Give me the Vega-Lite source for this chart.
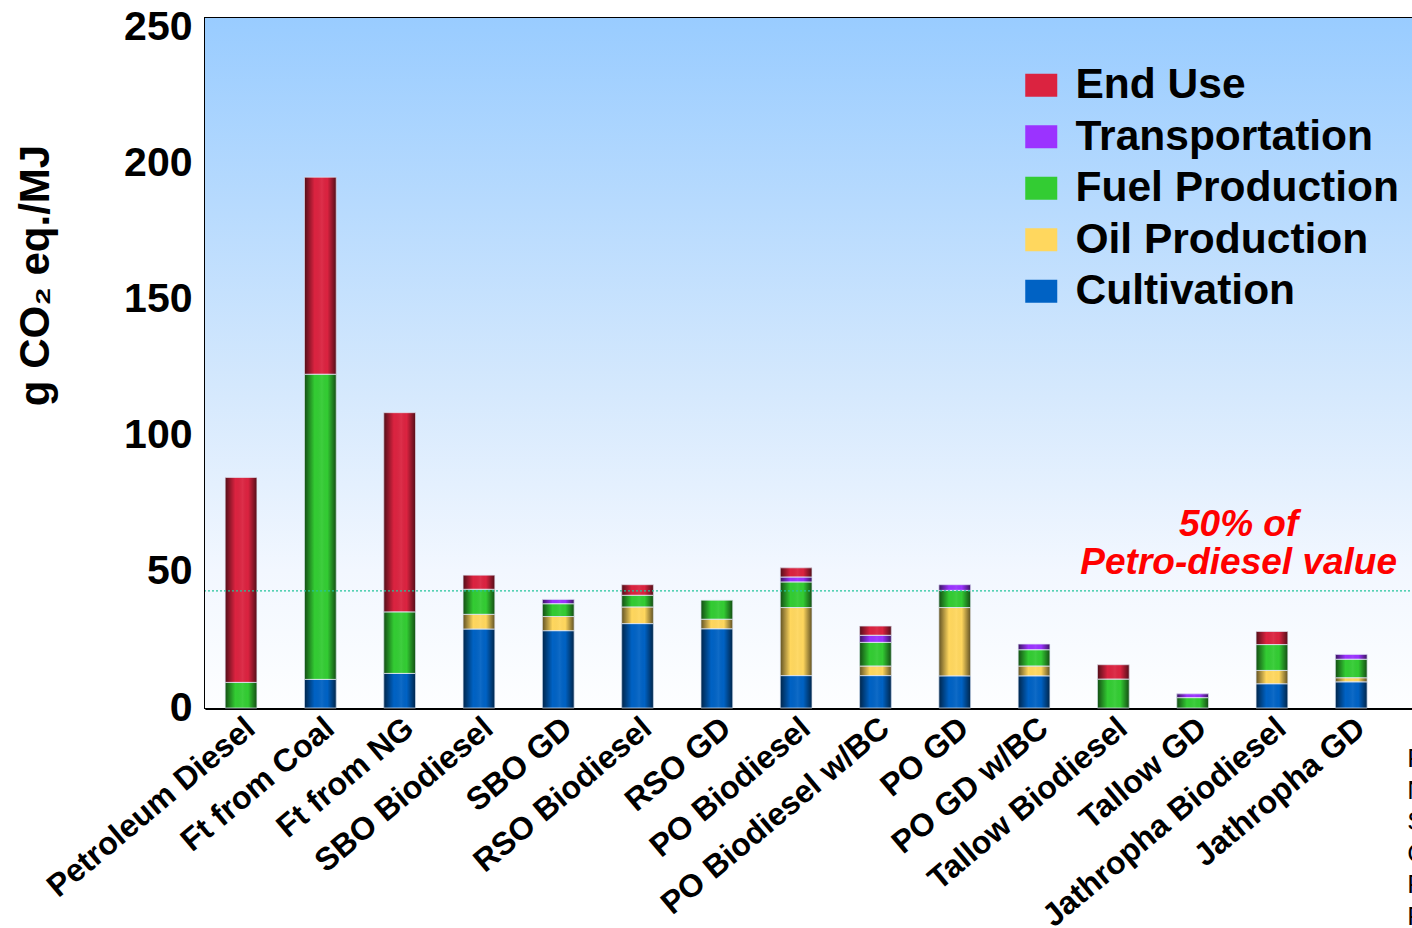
{
  "$schema": "https://vega.github.io/schema/vega-lite/v6.json",
  "width": 1209,
  "height": 690,
  "autosize": {"type": "none"},
  "padding": {"left": 205, "top": 18, "right": 0, "bottom": 220},
  "background": "white",
  "config": {"view": {"stroke": "black", "strokeWidth": 2}, "font": "Liberation Sans"},
  "datasets": {
    "emissions": [
      {"fuel": "Petroleum Diesel", "component": "Fuel Production", "value": 9.4},
      {"fuel": "Petroleum Diesel", "component": "End Use", "value": 75.3},
      {"fuel": "Ft from Coal", "component": "Cultivation", "value": 10.5},
      {"fuel": "Ft from Coal", "component": "Fuel Production", "value": 112.1},
      {"fuel": "Ft from Coal", "component": "End Use", "value": 72.4},
      {"fuel": "Ft from NG", "component": "Cultivation", "value": 12.7},
      {"fuel": "Ft from NG", "component": "Fuel Production", "value": 22.6},
      {"fuel": "Ft from NG", "component": "End Use", "value": 73.2},
      {"fuel": "SBO Biodiesel", "component": "Cultivation", "value": 29.0},
      {"fuel": "SBO Biodiesel", "component": "Oil Production", "value": 5.4},
      {"fuel": "SBO Biodiesel", "component": "Fuel Production", "value": 9.2},
      {"fuel": "SBO Biodiesel", "component": "End Use", "value": 5.2},
      {"fuel": "SBO GD", "component": "Cultivation", "value": 28.4},
      {"fuel": "SBO GD", "component": "Oil Production", "value": 5.2},
      {"fuel": "SBO GD", "component": "Fuel Production", "value": 4.7},
      {"fuel": "SBO GD", "component": "Transportation", "value": 1.6},
      {"fuel": "RSO Biodiesel", "component": "Cultivation", "value": 31.0},
      {"fuel": "RSO Biodiesel", "component": "Oil Production", "value": 6.1},
      {"fuel": "RSO Biodiesel", "component": "Fuel Production", "value": 4.3},
      {"fuel": "RSO Biodiesel", "component": "End Use", "value": 3.9},
      {"fuel": "RSO GD", "component": "Cultivation", "value": 29.1},
      {"fuel": "RSO GD", "component": "Oil Production", "value": 3.5},
      {"fuel": "RSO GD", "component": "Fuel Production", "value": 7.0},
      {"fuel": "PO Biodiesel", "component": "Cultivation", "value": 11.9},
      {"fuel": "PO Biodiesel", "component": "Oil Production", "value": 25.0},
      {"fuel": "PO Biodiesel", "component": "Fuel Production", "value": 9.4},
      {"fuel": "PO Biodiesel", "component": "Transportation", "value": 1.8},
      {"fuel": "PO Biodiesel", "component": "End Use", "value": 3.4},
      {"fuel": "PO Biodiesel w/BC", "component": "Cultivation", "value": 11.9},
      {"fuel": "PO Biodiesel w/BC", "component": "Oil Production", "value": 3.5},
      {"fuel": "PO Biodiesel w/BC", "component": "Fuel Production", "value": 8.7},
      {"fuel": "PO Biodiesel w/BC", "component": "Transportation", "value": 2.6},
      {"fuel": "PO Biodiesel w/BC", "component": "End Use", "value": 3.4},
      {"fuel": "PO GD", "component": "Cultivation", "value": 11.8},
      {"fuel": "PO GD", "component": "Oil Production", "value": 25.1},
      {"fuel": "PO GD", "component": "Fuel Production", "value": 6.3},
      {"fuel": "PO GD", "component": "Transportation", "value": 2.1},
      {"fuel": "PO GD w/BC", "component": "Cultivation", "value": 11.8},
      {"fuel": "PO GD w/BC", "component": "Oil Production", "value": 3.6},
      {"fuel": "PO GD w/BC", "component": "Fuel Production", "value": 6.0},
      {"fuel": "PO GD w/BC", "component": "Transportation", "value": 2.1},
      {"fuel": "Tallow Biodiesel", "component": "Fuel Production", "value": 10.6},
      {"fuel": "Tallow Biodiesel", "component": "End Use", "value": 5.3},
      {"fuel": "Tallow GD", "component": "Fuel Production", "value": 3.8},
      {"fuel": "Tallow GD", "component": "Transportation", "value": 1.4},
      {"fuel": "Jathropha Biodiesel", "component": "Cultivation", "value": 8.9},
      {"fuel": "Jathropha Biodiesel", "component": "Oil Production", "value": 4.9},
      {"fuel": "Jathropha Biodiesel", "component": "Fuel Production", "value": 9.5},
      {"fuel": "Jathropha Biodiesel", "component": "End Use", "value": 4.8},
      {"fuel": "Jathropha GD", "component": "Cultivation", "value": 9.6},
      {"fuel": "Jathropha GD", "component": "Oil Production", "value": 1.5},
      {"fuel": "Jathropha GD", "component": "Fuel Production", "value": 6.8},
      {"fuel": "Jathropha GD", "component": "Transportation", "value": 1.8}
    ]
  },
  "layer": [
    {
      "data": {"values": [{}]},
      "mark": {
        "type": "rect",
        "color": {
          "gradient": "linear", "x1": 0, "y1": 0, "x2": 0, "y2": 1,
          "stops": [
            {"offset": 0, "color": "#99ccff"},
            {"offset": 0.55, "color": "#d6e9fd"},
            {"offset": 0.8, "color": "#f2f7ff"},
            {"offset": 1, "color": "#fdfeff"}
          ]
        }
      },
      "encoding": {
        "y": {"datum": 253.5, "type": "quantitative"},
        "y2": {"datum": 0}
      }
    },
    {
      "data": {"name": "emissions"},
      "transform": [{"stack": "value", "groupby": ["fuel"], "as": ["y0", "y1"]}],
      "mark": {"type": "bar"},
      "encoding": {
        "x": {
          "field": "fuel", "type": "nominal", "sort": null,
          "scale": {"paddingInner": 0.6, "paddingOuter": 0.423, "align": 0.301},
          "axis": {
            "title": null, "labelAngle": -40, "labelFont": "Liberation Sans", "labelFontWeight": "bold",
            "labelFontSize": 32, "labelColor": "black", "ticks": false, "domainColor": "black",
            "domainWidth": 3, "labelPadding": 4, "labelLimit": 600
          }
        },
        "y": {
          "field": "y0", "type": "quantitative",
          "scale": {"domain": [0, 253.5], "nice": false},
          "axis": {
            "values": [0, 50, 100, 150, 200, 250],
            "labelFont": "Liberation Sans", "labelFontWeight": "bold", "labelFontSize": 41,
            "labelColor": "black", "labelPadding": 38, "tickSize": -25, "tickWidth": 2,
            "tickColor": "black", "domainColor": "black", "domainWidth": 2, "grid": false,
            "title": "g CO₂ eq./MJ", "titleFont": "Liberation Sans", "titleFontWeight": "bold",
            "titleFontSize": 42, "titleColor": "black", "titleAngle": 270, "titleAlign": "center",
            "titleBaseline": "alphabetic", "titleX": -157, "titleY": 257
          }
        },
        "y2": {"field": "y1"},
        "color": {
          "field": "component", "type": "nominal",
          "scale": {
            "domain": ["End Use", "Transportation", "Fuel Production", "Oil Production", "Cultivation"],
            "range": ["#db2340", "#9b33ff", "#33cc33", "#ffd75e", "#0062c4"]
          },
          "legend": {
            "orient": "none", "legendX": 815, "legendY": 46, "title": null, "padding": 0,
            "labelFont": "Liberation Sans", "labelFontWeight": "bold", "labelFontSize": 42.5,
            "labelColor": "black", "labelOffset": 13, "labelLimit": 600,
            "symbolType": "M-1,-0.72H1V0.72H-1Z", "symbolSize": 1024, "symbolStrokeWidth": 0,
            "symbolOpacity": 1, "rowPadding": 8.5
          }
        }
      }
    },
    {
      "data": {"name": "emissions"},
      "transform": [{"stack": "value", "groupby": ["fuel"], "as": ["y0", "y1"]}],
      "mark": {
        "type": "bar",
        "stroke": "#dfe7f2", "strokeWidth": 1, "strokeOpacity": 0.7,
        "fill": {
          "gradient": "linear", "x1": 0, "y1": 0, "x2": 1, "y2": 0,
          "stops": [
            {"offset": 0, "color": "rgba(0,0,0,0.62)"},
            {"offset": 0.32, "color": "rgba(0,0,0,0.0)"},
            {"offset": 0.55, "color": "rgba(255,255,255,0.06)"},
            {"offset": 0.72, "color": "rgba(0,0,0,0.0)"},
            {"offset": 1, "color": "rgba(0,0,0,0.62)"}
          ]
        }
      },
      "encoding": {
        "x": {"field": "fuel", "type": "nominal", "sort": null},
        "y": {"field": "y0", "type": "quantitative"},
        "y2": {"field": "y1"}
      }
    },
    {
      "data": {"values": [{}]},
      "mark": {"type": "rule", "color": "#22c49c", "strokeWidth": 1.2, "strokeDash": [2, 2]},
      "encoding": {"y": {"datum": 43, "type": "quantitative"}}
    },
    {
      "data": {"values": [{}]},
      "mark": {
        "type": "text", "text": ["50% of", "Petro-diesel value"], "font": "Liberation Sans",
        "fontWeight": "bold", "fontStyle": "italic", "fontSize": 37, "color": "#ff0000",
        "align": "center", "baseline": "alphabetic", "lineHeight": 38, "dx": 46, "dy": -55
      },
      "encoding": {
        "x": {"datum": "Tallow GD", "type": "nominal"},
        "y": {"datum": 43, "type": "quantitative"}
      }
    },
    {
      "data": {"values": [{}]},
      "mark": {
        "type": "text", "text": ["F", "N", "S", "C", "F", "F"], "font": "Liberation Sans",
        "fontSize": 26, "color": "black", "align": "left", "baseline": "alphabetic",
        "lineHeight": 31.5, "dx": 56, "dy": 59
      },
      "encoding": {
        "x": {"datum": "Jathropha GD", "type": "nominal"},
        "y": {"datum": 0, "type": "quantitative"}
      }
    }
  ]
}
